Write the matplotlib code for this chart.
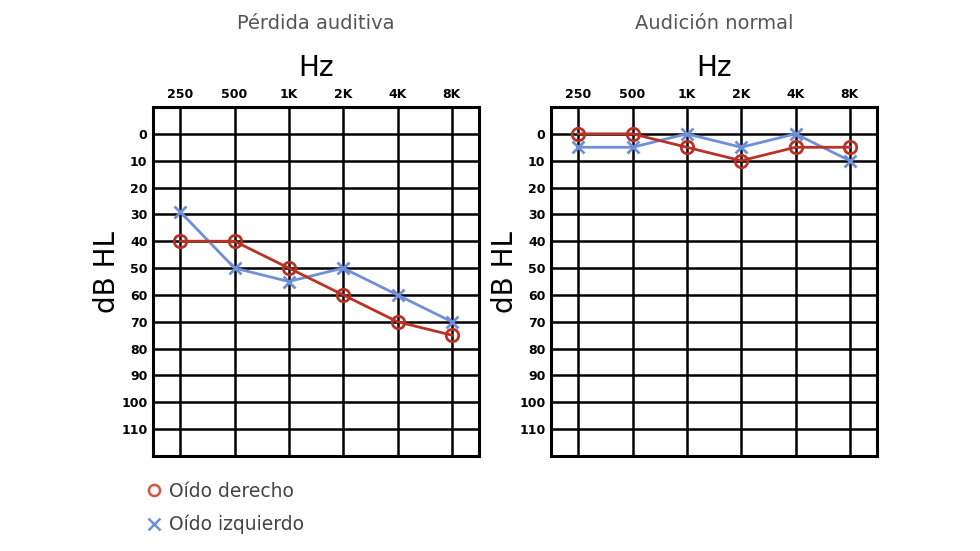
"""Two audiograms side by side: hearing loss vs normal hearing."""

import matplotlib.pyplot as plt
from matplotlib.lines import Line2D

FREQ_LABELS = ["250", "500", "1K", "2K", "4K", "8K"]
DB_TICKS = [0, 10, 20, 30, 40, 50, 60, 70, 80, 90, 100, 110]

TITLES = ["Pérdida auditiva", "Audición normal"]
RIGHT_EAR = [
    [40, 40, 50, 60, 70, 75],
    [0, 0, 5, 10, 5, 5],
]
LEFT_EAR = [
    [29, 50, 55, 50, 60, 70],
    [5, 5, 0, 5, 0, 10],
]
LEGEND_LABELS = ["Oído derecho", "Oído izquierdo"]

RED = "#b83226"
BLUE = "#6f8fd8"

plt.rcParams["font.family"] = ["DejaVu Sans"]


def draw_audiogram(ax, title, right_vals, left_vals):
    x = list(range(len(FREQ_LABELS)))
    ax.set_xlim(-0.5, len(FREQ_LABELS) - 0.5)
    ax.set_ylim(120, -10)

    for xi in x:
        ax.axvline(xi, color="black", lw=1.8, zorder=1)
    for yv in DB_TICKS:
        ax.axhline(yv, color="black", lw=1.8, zorder=1)

    ax.plot(x, left_vals, color=BLUE, lw=2, marker="x", ms=9, mew=2, zorder=3)
    ax.plot(x, right_vals, color=RED, lw=2, marker="o", ms=9, mew=2,
            mfc="none", zorder=4)

    ax.xaxis.tick_top()
    ax.set_xticks(x)
    ax.set_xticklabels(FREQ_LABELS, fontweight="bold", fontsize=9)
    ax.set_yticks(DB_TICKS)
    ax.set_yticklabels([str(v) for v in DB_TICKS], fontweight="bold", fontsize=9)
    ax.tick_params(length=0, pad=4)

    for spine in ax.spines.values():
        spine.set_linewidth(2.2)

    ax.text(-0.141, 0.527, "dB HL", transform=ax.transAxes, ha="center",
            va="center", rotation=90, fontsize=20)
    ax.text(0.5, 1.112, "Hz", transform=ax.transAxes, ha="center", va="center",
            fontsize=20)
    ax.text(0.5, 1.24, title, transform=ax.transAxes, ha="center", va="center",
            fontsize=14, color="#555555")


fig = plt.figure(figsize=(9.8, 5.51), dpi=100)
lefts = [153 / 980, 551 / 980]
for i, left in enumerate(lefts):
    ax = fig.add_axes([left, 1 - 456 / 551, 326 / 980, 349 / 551])
    draw_audiogram(ax, TITLES[i], RIGHT_EAR[i], LEFT_EAR[i])

handles = [
    Line2D([], [], ls="none", marker="o", mfc="none", mec="#d2554b", ms=8, mew=1.8),
    Line2D([], [], ls="none", marker="x", color=BLUE, ms=8, mew=1.8),
]
fig.legend(handles, LEGEND_LABELS, loc="upper left",
           bbox_to_anchor=(128 / 980, 1 - 465 / 551), frameon=False,
           handlelength=1.0, handletextpad=0.3, labelspacing=0.75,
           prop={"size": 13.5}, labelcolor="#444444")

fig.savefig("out.png", dpi=100)
